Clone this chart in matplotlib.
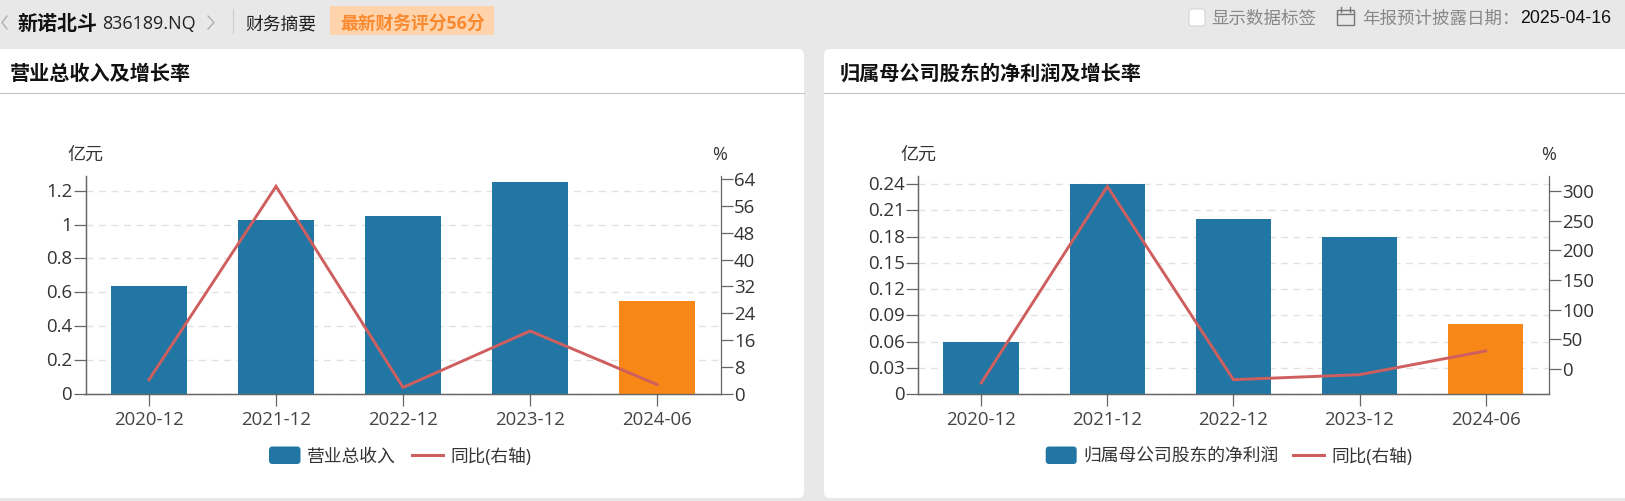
import matplotlib
matplotlib.use('Agg')
import matplotlib.pyplot as plt
from matplotlib.patches import FancyBboxPatch, Rectangle
from matplotlib.transforms import ScaledTranslation

plt.rcParams['font.family'] = ['Open Sans', 'Noto Sans CJK SC', 'DejaVu Sans']

# Data
periods = ['2020-12', '2021-12', '2022-12', '2023-12', '2024-06']
revenue = [0.64, 1.03, 1.052, 1.251, 0.55]
revenue_yoy = [4.25, 61.8, 1.96, 18.75, 2.8]
profit = [0.06, 0.24, 0.2, 0.18, 0.08]
profit_yoy = [-24, 308, -18.5, -10, 30]

revenue_ticks = [0, 0.2, 0.4, 0.6, 0.8, 1, 1.2]
revenue_yoy_ticks = [0, 8, 16, 24, 32, 40, 48, 56, 64]
profit_ticks = [0, 0.03, 0.06, 0.09, 0.12, 0.15, 0.18, 0.21, 0.24]
profit_yoy_ticks = [0, 50, 100, 150, 200, 250, 300]

revenue_title = '营业总收入及增长率'
profit_title = '归属母公司股东的净利润及增长率'
revenue_name = '营业总收入'
profit_name = '归属母公司股东的净利润'
yoy_name = '同比(右轴)'

BLUE = '#2276a3'
ORANGE = '#f78716'
RED = '#cf5f5f'
AXIS = '#666666'
W, H = 1625, 502

fig = plt.figure(figsize=(W / 100, H / 100), dpi=100, facecolor='#e8e8e8')

# page furniture goes in a pixel coordinate axes behind the charts
bg = fig.add_axes([0, 0, 1, 1], zorder=-1)
bg.set_xlim(0, W)
bg.set_ylim(H, 0)
bg.axis('off')


def rounded(x0, y0, x1, y1, r, color, edge='none'):
    bg.add_patch(FancyBboxPatch((x0 + r, y0 + r), x1 - x0 - 2 * r, y1 - y0 - 2 * r,
                                boxstyle='round,pad=%f,rounding_size=%f' % (r, r),
                                fc=color, ec=edge, lw=0.7))


def label(x, y, s, size=12.8, color='#333333', ha='left', weight='normal', family=None):
    bg.text(x, y, s, fontsize=size, color=color, ha=ha, va='center', fontweight=weight,
            family=family if family else ['Open Sans', 'Noto Sans CJK SC'])


def nudge_up(labels, px):
    # tick labels sit a little above their tick in the original
    shift = ScaledTranslation(0, px / 100, fig.dpi_scale_trans)
    for t in labels:
        t.set_transform(t.get_transform() + shift)


# white cards
rounded(-10, 50, 804, 499, 6, 'white')
rounded(824, 50, 1635, 499, 6, 'white')
bg.plot([0, 804], [93.5, 93.5], color='#c8c8c8', lw=0.9)
bg.plot([824, 1625], [93.5, 93.5], color='#c8c8c8', lw=0.9)
label(10, 74.5, revenue_title, size=14.5, color='#111111', weight='bold')
label(840, 74.5, profit_title, size=14.5, color='#111111', weight='bold')

# header strip
bg.plot([7, 2, 7], [17, 23.5, 30], color='#aaaaaa', lw=0.9)
bg.plot([208, 214, 208], [17, 23.5, 30], color='#aaaaaa', lw=0.9)
label(17, 24.5, '新诺北斗', size=14.4, color='#111111', weight='bold')
label(102, 24, '836189.NQ', size=13, color='#222222')
bg.plot([232.5, 232.5], [10, 34], color='#cccccc', lw=0.8)
label(245, 24.5, '财务摘要', size=12.8, color='#222222')
rounded(330, 7, 494, 36, 1, '#ffd3ab')
label(340, 24, '最新财务评分56分', size=12.8, color='#f98a30', weight='bold')

rounded(1189, 10, 1205, 27, 3, 'white', edge='#d0d0d0')
label(1211, 20, '显示数据标签', size=12.6, color='#888888')
bg.add_patch(Rectangle((1337, 11), 17, 15, fc='none', ec='#777777', lw=1))
bg.plot([1337, 1354], [15, 15], color='#777777', lw=1)
bg.plot([1341, 1341], [8, 13], color='#777777', lw=1)
bg.plot([1350, 1350], [8, 13], color='#777777', lw=1)
label(1362, 20, '年报预计披露日期：', size=12.6, color='#888888')
label(1520, 18.5, '2025-04-16', size=12.8, color='#111111', family=['Liberation Sans'])


def draw_chart(x0, x1, bars, yoy, left_ticks, right_ticks, y_top, yoy_px):
    # axes placed by pixels: baseline 395, top of axis line 177.4
    ax = fig.add_axes([x0 / W, 1 - 395 / H, (x1 - x0) / W, 217.6 / H])
    ax.patch.set_visible(False)
    pos = list(range(len(periods)))
    colors = [BLUE] * 4 + [ORANGE]
    ax.bar(pos, bars, width=0.6, color=colors, edgecolor='none', zorder=3)
    ax.set_xlim(-0.5, 4.5)
    ax.set_ylim(0, y_top)
    ax.set_xticks(pos)
    ax.set_xticklabels(periods, color='#444444')
    ax.set_yticks(left_ticks)
    ax.set_yticklabels([str(t) for t in left_ticks], color='#333333')
    ax.tick_params(axis='both', length=8.6, width=0.9, color=AXIS, labelsize=13.4)
    ax.tick_params(axis='y', pad=1)
    ax.tick_params(axis='x', pad=3)
    nudge_up(ax.get_yticklabels(), 2)
    ax.yaxis.grid(True, color='#e2e2e2', linestyle=(0, (5, 4)), lw=1)
    ax.set_axisbelow(True)
    ax.spines['top'].set_visible(False)
    ax.spines['right'].set_visible(False)

    ax2 = ax.twinx()
    ax2.plot(pos, yoy, color=RED, lw=2.1, solid_joinstyle='miter', zorder=4)
    ax2.set_ylim(yoy_px)
    ax2.set_yticks(right_ticks)
    ax2.set_yticklabels([str(t) for t in right_ticks], color='#333333')
    ax2.tick_params(axis='y', length=8.6, width=0.9, color=AXIS, labelsize=13.4, pad=1)
    nudge_up(ax2.get_yticklabels(), 1)
    ax2.spines['top'].set_visible(False)
    for ax_ in (ax, ax2):
        for name in ('left', 'right', 'bottom'):
            ax_.spines[name].set_color(AXIS)
            ax_.spines[name].set_linewidth(0.9)
    ax.spines['right'].set_visible(False)


draw_chart(85.5, 720.6, revenue, revenue_yoy, revenue_ticks, revenue_yoy_ticks, 1.2845, (0, 64.75))
draw_chart(918.2, 1548.7, profit, profit_yoy, profit_ticks, profit_yoy_ticks, 0.2487, (-42.7, 325))

# unit labels
label(85, 155, '亿元', ha='center', size=13)
label(720, 155, '%', ha='center', size=13)
label(918, 155, '亿元', ha='center', size=13)
label(1549, 155, '%', ha='center', size=13)

# legends
rounded(269, 447.5, 300.5, 465, 3.5, BLUE)
label(306.5, 457, revenue_name, size=12.8)
bg.plot([411.7, 443], [456, 456], color=RED, lw=2.2)
label(450, 457, yoy_name, size=12.7)

rounded(1045.7, 447.5, 1076.7, 465, 3.5, BLUE)
label(1083, 457, profit_name, size=12.8)
bg.plot([1293, 1324], [456, 456], color=RED, lw=2.2)
label(1331.5, 457, yoy_name, size=12.7)

fig.savefig('out.png', dpi=100, facecolor=fig.get_facecolor())
